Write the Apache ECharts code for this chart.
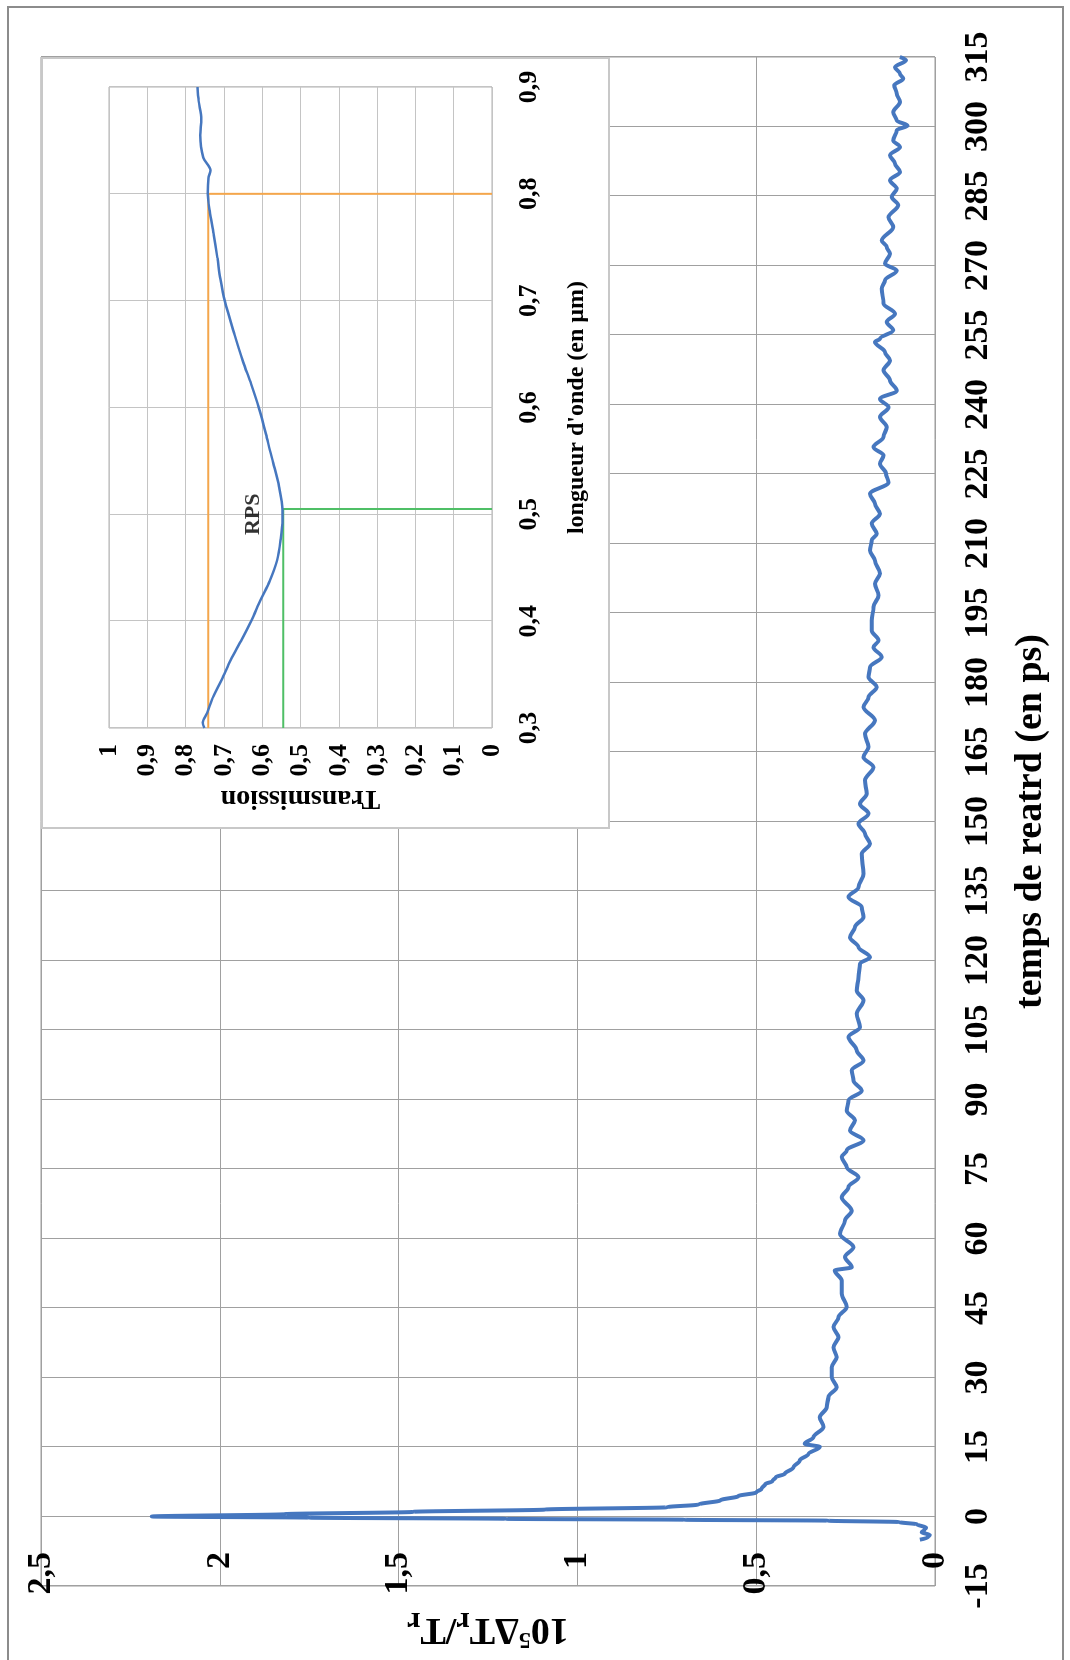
<!DOCTYPE html>
<html>
<head>
<meta charset="utf-8">
<title>Transmission différentielle</title>
<script src="https://cdn.jsdelivr.net/npm/echarts@6/dist/echarts.min.js"></script>
<style>
html, body { margin: 0; padding: 0; background: #fff; overflow: hidden; }
#wrap { width: 1070px; height: 1660px; position: relative; overflow: hidden; }
/* the figure is laid out landscape, then turned a quarter turn left like the scan */
#chart { position: absolute; left: 0; top: 0; width: 1660px; height: 1070px;
  transform-origin: 0 0; transform: translate(0, 1660px) rotate(-90deg); }
</style>
</head>
<body>
<div id="wrap"><div id="chart"></div></div>
<script>
// courbe principale : temps de retard (ps) / signal 10^5 dTr/Tr
var delayPs = [-5.0, -4.5, -4.0, -3.4, -2.9, -2.4, -1.7, -1.2, -0.9, -0.7, -0.5, -0.25, 0,
  0.5, 1.0, 1.5, 2.0, 2.6, 3.5, 4.4, 5.2, 6.0, 7.0, 7.6, 8.5, 9.2, 10.6, 12.1, 13.5, 15.0, 15.7,
  17.1, 19.3, 21.4, 23.6, 25.8, 27.9, 30.1, 32.2, 34.4, 36.5, 38.7, 40.9, 43.0, 45.2, 48.1,
  50.9, 53.1, 53.8, 56.0, 58.1, 61.0, 63.9, 66.0, 68.9, 71.1, 73.2, 75.4, 77.6, 79.0, 81.2,
  83.3, 85.5, 87.6, 89.8, 91.9, 94.1, 96.3, 98.4, 100.6, 103.5, 105.6, 108.5, 111.4, 113.5,
  116.4, 119.3, 120.7, 122.9, 125.0, 127.2, 129.4, 131.5, 133.7, 135.8, 138.7, 143.0, 145.2,
  147.4, 149.5, 151.7, 153.8, 156.0, 158.9, 161.7, 163.9, 166.1, 168.9, 171.8, 174.7, 176.8,
  179.0, 181.2, 183.3, 185.5, 187.6, 189.1, 191.2, 193.4, 196.3, 198.8, 201.3, 203.5, 206.3,
  208.5, 210.7, 212.1, 214.3, 216.4, 218.6, 220.7, 223.2, 225.1, 227.2, 229.0, 230.8, 233.0,
  235.1, 237.3, 239.4, 241.2, 243.0, 245.2, 247.4, 249.5, 251.3, 253.5, 254.2, 256.0, 257.8,
  259.6, 261.8, 265.0, 266.8, 268.9, 270.4, 272.5, 274.0, 275.4, 278.3, 280.4, 283.0, 284.8,
  286.6, 288.4, 290.2, 292.0, 293.8, 295.6, 297.0, 299.2, 300.2, 301.3, 303.1, 305.3, 307.1,
  308.9, 310.3, 311.4, 312.8, 314.3, 315.0];
var signal = [0.042, 0.02, 0.015, 0.037, 0.03, 0.025, 0.05, 0.10, 0.30, 0.70, 1.20, 1.75, 2.19,
  1.82, 1.46, 1.09, 0.75, 0.66, 0.60, 0.55, 0.50, 0.485, 0.475, 0.455, 0.445, 0.42, 0.396, 0.378, 0.354, 0.322, 0.364,
  0.340, 0.312, 0.322, 0.303, 0.298, 0.275, 0.289, 0.289, 0.275, 0.284, 0.270, 0.284, 0.270, 0.247, 0.261,
  0.261, 0.280, 0.233, 0.252, 0.228, 0.266, 0.252, 0.233, 0.261, 0.242, 0.214, 0.247, 0.261, 0.247, 0.200,
  0.238, 0.224, 0.247, 0.242, 0.205, 0.228, 0.233, 0.200, 0.219, 0.242, 0.210, 0.219, 0.200, 0.219,
  0.214, 0.210, 0.182, 0.214, 0.238, 0.224, 0.200, 0.205, 0.242, 0.214, 0.200, 0.205, 0.182,
  0.196, 0.214, 0.186, 0.210, 0.191, 0.196, 0.172, 0.200, 0.186, 0.196, 0.168, 0.200, 0.186,
  0.163, 0.186, 0.182, 0.149, 0.172, 0.158, 0.177, 0.177, 0.172, 0.158, 0.168, 0.154, 0.168,
  0.182, 0.177, 0.163, 0.177, 0.154, 0.168, 0.182, 0.130, 0.137, 0.154, 0.144, 0.172, 0.144,
  0.135, 0.154, 0.130, 0.154, 0.107, 0.126, 0.144, 0.126, 0.140, 0.168, 0.154, 0.117, 0.135,
  0.112, 0.144, 0.149, 0.140, 0.107, 0.140, 0.126, 0.135, 0.149, 0.117, 0.130, 0.103, 0.121,
  0.107, 0.126, 0.098, 0.112, 0.126, 0.098, 0.117, 0.107, 0.077, 0.107, 0.117, 0.098, 0.107,
  0.114, 0.089, 0.098, 0.112, 0.081, 0.098];

// encart : transmission en fonction de la longueur d'onde (um)
var wavelength = [0.300, 0.305, 0.314, 0.330, 0.345, 0.364, 0.383, 0.400, 0.420, 0.438, 0.457,
  0.476, 0.495, 0.504, 0.526, 0.548, 0.560, 0.575, 0.600, 0.622, 0.643, 0.668, 0.700, 0.720,
  0.740, 0.763, 0.784, 0.800, 0.815, 0.822, 0.834, 0.855, 0.870, 0.887, 0.900];
var transmission = [0.751, 0.755, 0.744, 0.727, 0.706, 0.682, 0.653, 0.629, 0.604, 0.580, 0.561,
  0.552, 0.547, 0.547, 0.556, 0.571, 0.580, 0.590, 0.609, 0.629, 0.650, 0.672, 0.698, 0.709,
  0.717, 0.727, 0.737, 0.742, 0.740, 0.735, 0.754, 0.762, 0.759, 0.766, 0.769];

// repères de l'encart
var orangeMark = [[0.3, 0.741], [0.8, 0.741], [0.8, 0]];
var greenMark = [[0.3, 0.545], [0.505, 0.545], [0.505, 0]];
var rpsPoint = [0.5, 0.624];

var serif = 'Liberation Serif';
var blue = '#4677bf';

function comma(v) {
    return String(parseFloat(v.toFixed(2))).replace('.', ',');
}

var chart = echarts.init(document.getElementById('chart'));

var mainData = delayPs.map(function(t, i) { return [t, signal[i]]; });
var insetData = wavelength.map(function(w, i) { return [w, transmission[i]]; });

var option = {
    animation: false,
    backgroundColor: '#fff',
    graphic: [
        // cadre extérieur de la figure
        { type: 'polyline', shape: { points: [[0, 8], [1653, 8], [1653, 1063], [0, 1063]] },
          style: { fill: null, stroke: '#8c8c8c', lineWidth: 2 }, z: 0 },
        // fond blanc de l'encart
        { type: 'rect', shape: { x: 832, y: 42, width: 770, height: 567 },
          style: { fill: '#fff', stroke: '#c8c8c8', lineWidth: 2 }, z: 5 }
    ],
    grid: [
        { left: 74, right: 57, top: 41, bottom: 135, show: true, borderColor: '#9a9a9a', borderWidth: 1 },
        { left: 932, right: 87, top: 109, bottom: 578, show: true, borderColor: '#b0b0b0', borderWidth: 1, z: 6 }
    ],
    xAxis: [
        {
            gridIndex: 0, type: 'value', min: -15, max: 315, interval: 15,
            name: 'temps de reatrd (en ps)', nameLocation: 'middle', nameGap: 77,
            nameTextStyle: { fontFamily: serif, fontWeight: 'bold', fontSize: 38, color: '#000' },
            axisLine: { show: false }, axisTick: { show: false },
            axisLabel: { margin: 26, fontFamily: serif, fontWeight: 'bold', fontSize: 34, color: '#000' },
            splitLine: { lineStyle: { color: '#a0a0a0', width: 1 } }
        },
        {
            gridIndex: 1, type: 'value', min: 0.3, max: 0.9, interval: 0.1, z: 6,
            name: "longueur d'onde (en µm)", nameLocation: 'middle', nameGap: 73,
            nameTextStyle: { fontFamily: serif, fontWeight: 'bold', fontSize: 24, color: '#000' },
            axisLine: { show: false }, axisTick: { show: false },
            axisLabel: { margin: 24, fontFamily: serif, fontWeight: 'bold', fontSize: 26, color: '#000', formatter: comma },
            splitLine: { lineStyle: { color: '#c4c4c4', width: 1 } }
        }
    ],
    yAxis: [
        {
            gridIndex: 0, type: 'value', min: 0, max: 2.5, interval: 0.5,
            name: '{a|10}{s|5}{a|ΔT}{b|r}{a|/T}{b|r}', nameLocation: 'middle', nameRotate: 90, nameGap: 18,
            nameTextStyle: {
                color: '#000',
                rich: {
                    a: { fontFamily: serif, fontWeight: 'bold', fontSize: 38, lineHeight: 46, color: '#000' },
                    s: { fontFamily: serif, fontWeight: 'bold', fontSize: 24, verticalAlign: 'top', color: '#000' },
                    b: { fontFamily: serif, fontWeight: 'bold', fontSize: 30, verticalAlign: 'bottom', color: '#000' }
                }
            },
            axisLine: { show: false }, axisTick: { show: false },
            axisLabel: { margin: -34, fontFamily: serif, fontWeight: 'bold', fontSize: 34, color: '#000', formatter: comma },
            splitLine: { lineStyle: { color: '#a0a0a0', width: 1 } }
        },
        {
            gridIndex: 1, type: 'value', min: 0, max: 1, interval: 0.1, z: 6,
            name: 'Transmission', nameLocation: 'middle', nameRotate: 90, nameGap: 56,
            nameTextStyle: { fontFamily: serif, fontWeight: 'bold', fontSize: 28, color: '#000' },
            axisLine: { show: false }, axisTick: { show: false },
            axisLabel: { margin: 16, fontFamily: serif, fontWeight: 'bold', fontSize: 26, color: '#000', formatter: comma },
            splitLine: { lineStyle: { color: '#c4c4c4', width: 1 } }
        }
    ],
    series: [
        {
            type: 'line', xAxisIndex: 0, yAxisIndex: 0, data: mainData,
            symbol: 'none', smooth: 0.35, smoothMonotone: 'x',
            lineStyle: { color: blue, width: 4 }, z: 2
        },
        {
            type: 'line', xAxisIndex: 1, yAxisIndex: 1, data: orangeMark,
            symbol: 'none', lineStyle: { color: '#f4a64c', width: 2 }, z: 7
        },
        {
            type: 'line', xAxisIndex: 1, yAxisIndex: 1, data: greenMark,
            symbol: 'none', lineStyle: { color: '#4fbf66', width: 2 }, z: 7
        },
        {
            type: 'line', xAxisIndex: 1, yAxisIndex: 1, data: insetData,
            symbol: 'none', smooth: 0.3,
            lineStyle: { color: blue, width: 2.5 }, z: 8
        },
        {
            type: 'scatter', xAxisIndex: 1, yAxisIndex: 1, data: [rpsPoint],
            symbolSize: 1, itemStyle: { color: 'rgba(0,0,0,0)' }, z: 8,
            label: { show: true, position: 'inside', formatter: 'RPS',
                     fontFamily: serif, fontWeight: 'bold', fontSize: 22, color: '#000' }
        }
    ]
};

chart.setOption(option);
</script>
</body>
</html>
